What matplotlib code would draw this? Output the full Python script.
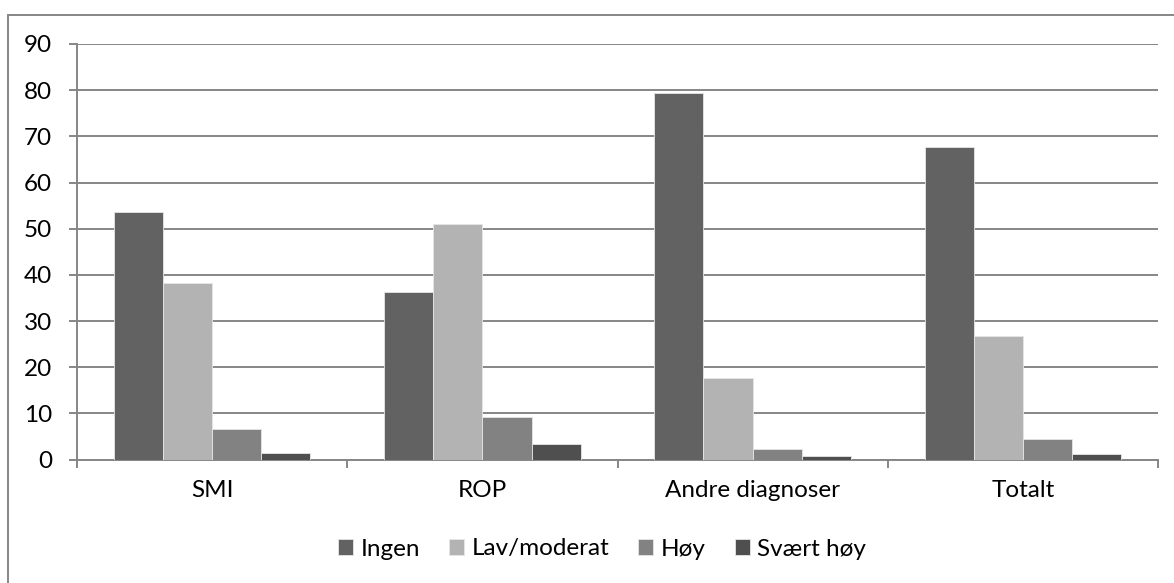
import matplotlib
matplotlib.use("Agg")
import matplotlib.pyplot as plt
from matplotlib.patches import Rectangle
import numpy as np

plt.rcParams["font.family"] = ["Lato", "DejaVu Sans"]

CATEGORIES = ["SMI", "ROP", "Andre diagnoser", "Totalt"]
SERIES = ["Ingen", "Lav/moderat", "Høy", "Svært høy"]
INGEN = [53.6, 36.3, 79.4, 67.7]
LAV = [38.3, 51.1, 17.6, 26.8]
HOY = [6.6, 9.2, 2.2, 4.4]
SVAERT = [1.5, 3.3, 0.7, 1.1]
VALUES = [INGEN, LAV, HOY, SVAERT]
COLORS = ["#626262", "#b3b3b3", "#828282", "#4f4f4f"]
GRID = "#868686"
FS = 17.5

W, H = 1174, 583
fig = plt.figure(figsize=(W / 100, H / 100), dpi=100)
ax = fig.add_axes([77 / W, 1 - 459.5 / H, (1158 - 77) / W, (459.5 - 44) / H])

nser = len(SERIES)
barw = 1.0 / (nser + 1.5)
x = np.arange(len(CATEGORIES))
for i, (name, vals) in enumerate(zip(SERIES, VALUES)):
    xs = x - nser * barw / 2 + (i + 0.5) * barw
    ax.bar(xs, vals, width=barw, color=COLORS[i], label=name,
           edgecolor="#e6e6e6", linewidth=0.6, zorder=3)

ax.set_xlim(-0.5, len(CATEGORIES) - 0.5)
ax.set_ylim(0, 90)
ax.set_yticks(np.arange(0, 91, 10))
ax.yaxis.grid(True, color=GRID, linewidth=1.4, zorder=0)
ax.set_axisbelow(True)

# category boundaries get the tick marks, labels sit in between
ax.set_xticks(np.arange(len(CATEGORIES) + 1) - 0.5)
ax.set_xticklabels([])
ax.set_xticks(x, minor=True)
ax.set_xticklabels(CATEGORIES, minor=True, fontsize=FS)
ax.tick_params(axis="x", which="minor", length=0, pad=15)
ax.tick_params(axis="x", which="major", length=6, width=1.4, color=GRID, direction="out")
ax.tick_params(axis="y", length=6, width=1.4, color=GRID, direction="out", labelsize=FS, pad=12)

for side in ["top", "right"]:
    ax.spines[side].set_visible(False)
for side in ["left", "bottom"]:
    ax.spines[side].set_color(GRID)
    ax.spines[side].set_linewidth(1.4)

leg = fig.legend(loc="center", bbox_to_anchor=(602 / W, 1 - 549 / H), ncol=4,
                 frameon=False, fontsize=FS, handlelength=0.62, handleheight=0.62,
                 handletextpad=0.3, columnspacing=1.2)

# outer chart border (continues past the right and bottom edges)
fig.patches.append(Rectangle((8 / W, -0.1), 1.2, (1 - 15 / H) + 0.1,
                             transform=fig.transFigure, fill=False,
                             edgecolor=GRID, linewidth=1.4))

fig.savefig("out.png", dpi=100, facecolor="white")
